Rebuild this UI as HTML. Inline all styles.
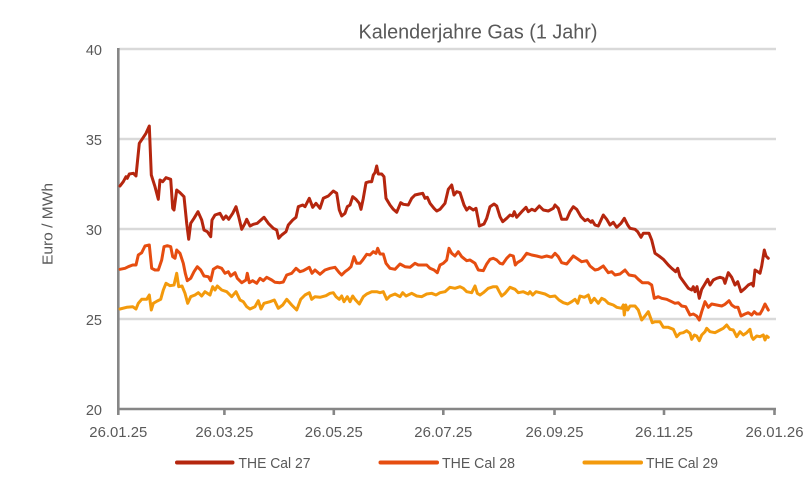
<!DOCTYPE html>
<html>
<head>
<meta charset="utf-8">
<style>
html,body{margin:0;padding:0;background:#fff;}
svg{display:block;}
text{font-family:"Liberation Sans",sans-serif;fill:#595959;}
</style>
</head>
<body>
<svg width="811" height="490" viewBox="0 0 811 490" xmlns="http://www.w3.org/2000/svg">
<rect width="811" height="490" fill="#fff"/>
<text x="478" y="38.5" font-size="20" text-anchor="middle" textLength="239" lengthAdjust="spacingAndGlyphs">Kalenderjahre Gas (1 Jahr)</text>
<!-- gridlines -->
<g stroke="#d9d9d9" stroke-width="2.6">
<line x1="119" y1="49" x2="776" y2="49"/>
<line x1="119" y1="139" x2="776" y2="139"/>
<line x1="119" y1="229" x2="776" y2="229"/>
<line x1="119" y1="319" x2="776" y2="319"/>
</g>
<!-- axes -->
<g stroke="#868686" stroke-width="2.6" fill="none">
<line x1="118.3" y1="48" x2="118.3" y2="410"/>
<line x1="117" y1="409" x2="776" y2="409"/>
<line x1="118.3" y1="409" x2="118.3" y2="415"/>
<line x1="224.4" y1="409" x2="224.4" y2="415"/>
<line x1="333.8" y1="409" x2="333.8" y2="415"/>
<line x1="443.3" y1="409" x2="443.3" y2="415"/>
<line x1="554.5" y1="409" x2="554.5" y2="415"/>
<line x1="664" y1="409" x2="664" y2="415"/>
<line x1="774.5" y1="409" x2="774.5" y2="415"/>
</g>
<!-- y labels -->
<g font-size="14.5" text-anchor="end">
<text x="102" y="55">40</text>
<text x="102" y="145">35</text>
<text x="102" y="235">30</text>
<text x="102" y="325">25</text>
<text x="102" y="415">20</text>
</g>
<text transform="translate(52.5,224) rotate(-90)" font-size="14.5" text-anchor="middle" textLength="82" lengthAdjust="spacingAndGlyphs">Euro / MWh</text>
<!-- x labels -->
<g font-size="14.5" text-anchor="middle">
<text x="118.3" y="437" textLength="58" lengthAdjust="spacingAndGlyphs">26.01.25</text>
<text x="224.4" y="437" textLength="58" lengthAdjust="spacingAndGlyphs">26.03.25</text>
<text x="333.8" y="437" textLength="58" lengthAdjust="spacingAndGlyphs">26.05.25</text>
<text x="443.3" y="437" textLength="58" lengthAdjust="spacingAndGlyphs">26.07.25</text>
<text x="554.5" y="437" textLength="58" lengthAdjust="spacingAndGlyphs">26.09.25</text>
<text x="664" y="437" textLength="58" lengthAdjust="spacingAndGlyphs">26.11.25</text>
<text x="774.5" y="437" textLength="58" lengthAdjust="spacingAndGlyphs">26.01.26</text>
</g>
<!-- series -->
<g fill="none" stroke-width="3" stroke-linejoin="round" stroke-linecap="round">
<polyline stroke="#f39a0c" points="120,309 126.7,307.3 132.7,306.7 136,309 138.3,303.3 141.7,299.3 146.7,299.3 149.3,295 151.3,310 153.3,303.3 157.3,301 160.7,299.3 163.3,290 166,283.3 170,285.7 174,285 176.7,273.3 178.7,286.7 182,286 185,293.3 187.7,303.3 190.7,296.7 195,295 198.3,292.7 201.7,296 205,291.7 210,295 212.7,286.7 215,290 217.3,286 221.7,290 226.7,291.7 231.7,296.7 236,291.7 240,300 243.3,301.7 246.7,306.7 250,309 255,306.7 258.3,300.7 261,309 264,303.3 270,301.7 274.3,300 278.3,308.3 282.7,305 286.7,299.3 291.7,305 296.7,310 300.7,299.3 305,295 309.3,292.7 311.7,299.3 315,296.7 320,297.3 326,295.7 330,293.3 333.3,292.7 336,296.7 339.3,299.3 341.7,296 344,301.7 347.3,296.7 350,301.7 352.7,296 355,299.3 359.3,304 363.3,296.7 366.7,294 371.7,291.7 376.7,291.7 380,292.7 383.3,291.7 386.7,299.3 390,296 395,294 400,296.7 402.7,292.7 406,296 411.7,293.3 416.7,296 421.7,296.7 426.7,294 431.7,293.3 436,295 440,292.7 445,291.7 450,287.3 455,288.3 460,286.7 463.3,288.3 466.7,291.7 471.7,292.7 475,286 477.3,293.3 480,295 483.3,292.7 488.3,288.3 493.3,286.7 496.7,286.7 499.3,291.7 501.7,296 505,293.3 510,287.3 515,289.3 518.3,292.7 523.3,291.7 528.3,294 530,291.7 532.7,295 536,291.7 540,292.7 545,294 550,296.7 555,296 559,300 563.3,302.7 567.7,304 571.7,301.7 575,299.3 577.7,303.3 580,296 584.3,297.3 588.3,295 591,302.7 594.3,298.3 598.3,303.3 601.7,298.3 605,300 608.3,303.3 613.3,305 616.7,307.3 621.7,308.3 623.3,305 624.3,315 625.7,305 627.7,310 630,306 635,306 638.3,310 641.7,320 645,316 648.3,311.7 652.3,322.7 655,321.7 660,321.7 663.3,327.3 668.3,327.3 673.3,329.3 676.7,336.7 680,333.3 683.3,332.7 686.7,330.7 690,333.3 691.7,339.3 694.3,335 696.7,336 699.3,340.7 701.7,335 705,331.7 706.7,328.3 710,331.7 715,332.7 720,330 723.3,328.3 726.7,325 730,329.3 733.3,330 736.7,336.7 740,331.7 743.3,335 746.7,332.7 750,329.3 751.7,336.7 753.3,339.3 756.7,336 760,336.7 763.3,335 765,340 766.7,336 768.3,337.3"/>
<polyline stroke="#e64d10" points="120,269.3 125,268.3 128.3,266.7 132.7,265 136,265 138.3,255 141.7,252.7 145,246 149.3,245 151.7,268.3 155,270 158.3,270 161.7,260 164,246.7 167.3,245.7 170.7,246.7 172.7,256.7 175,258.3 176.7,250 180,253.3 183.3,263.3 185.3,273.3 187.3,280.7 190.7,278.3 194,271.7 197.3,266.7 200.7,270 204,276 208.3,276.7 210.7,280.7 213.3,269.3 217.3,266.7 221.7,268.3 225,273.3 228.3,271.7 230.7,276 235,272.7 237.3,278.3 241.7,282.7 246,280 247.3,273.3 249.3,282.7 252.7,280.7 256.7,283.3 260,278.3 263.3,280.7 266.7,277.3 271.7,280 275,282.3 280,282.7 283.3,282 286.7,275 291.7,273.3 296,268.3 300,271.7 303.3,270.7 309.3,267.3 312,273.3 315,270 320,274.3 325,270 330,268.3 335,267.3 339.3,272.7 341.7,275 345,271.7 348.3,269.3 351,266.7 354,256.7 356.7,263.3 360,263.3 362.7,260 366.7,254.3 370,255 373.3,251.7 376,253.3 377.7,248.3 380,254 383.3,254 386,263.3 390,268.3 395,269.3 400,264 405,266.7 410,267.3 415,263.3 418.3,265 422.7,265 426.7,265 430,268.3 434,270 437.3,272.7 440,265 443.3,263.3 446.7,260 449,248.3 451.7,253.3 455,256 458.3,251.7 461.7,256.7 466.7,260.7 470,260 475,263.3 478.3,270 483.3,270.7 486.7,264 490,259.3 493.3,258.3 496.7,260 500,263.3 502.7,264 506.7,258.3 510,255 513.3,256 515.3,265 517.3,262.7 521.7,260 526.7,253.3 531.7,255 536.7,256 541.7,257.3 546.7,256 551.7,257.3 555,253.3 558.3,256.7 561.7,262.7 566.7,264 573.3,256 576.7,258.3 581.7,261.7 586.7,260.7 590,266 595,270 598.3,269.3 603.3,266 608.3,272.7 611.7,271.7 615,275 620,274 625,270 629,275 635,276 638.3,279.3 642.3,282.7 648.3,282.7 651.7,285 654.3,298.3 658.3,296.7 661.7,298.3 666.7,299.3 671.7,301.7 675,303.3 678.3,302.7 681.7,306 685.7,306.7 690,315 693.3,314 696.7,316 699.3,320 701.7,311.7 705,301.7 708.3,307.3 711.7,304 716.7,305 721.7,306 725,304.3 729,300.7 731.7,305 735,307.3 738,307.3 741,316 745,314 748.3,312.7 751.7,315 754.3,311.7 756.7,314 760,314 762.3,310 765,304 768.3,310"/>
<polyline stroke="#b5260e" points="120,186 123.3,181.7 126,176.7 127.3,178.3 129.3,174 133.3,173.3 136,176 139.3,143.3 142.7,138.3 146,133.3 149.3,126 151.3,175 155,186.7 158.3,199.3 160,180 162.7,181.7 166,177.7 170.7,179.3 172.7,208.3 174,210 176.7,190 180,192.7 184,196.7 186.7,223.3 188.7,239.3 190.7,223.3 194,218.3 198,211.7 201.7,220 204,230 207.3,231.7 210.7,236.7 212,220 215,215 220,213.3 223.3,219.3 226,216 228.7,219.3 232.7,213.3 236,206.7 238.7,216.7 241.7,229.3 245,223.3 246.7,219.3 250,226 253.3,224.3 257.3,223.3 264,217.3 268.3,223.3 273.3,228.3 276.7,230 278.7,238.3 281.7,235 286,231.7 288.3,225 292.7,220 296,217.3 298.3,206.7 302.7,205 305,206.7 309.3,198.3 312.7,207.3 316,203.3 320,208.3 323.3,198.3 328.3,196 333.3,191 336.7,193.3 339.3,210 341.7,216 345,213.3 347.3,206.7 350,205 352.7,196.7 356,199.3 359.3,203.3 361,209.3 363.3,198.3 366,182.7 369.3,181.7 371.7,181.7 373.3,175 375,172.7 376.7,166 378.3,174 381.7,174 384,176.7 386,198.3 390,205 393.3,209.3 396.7,212.3 400.7,202.7 403.3,204.3 408.3,205 411.7,198.3 415,195 419.3,194 422.7,193.3 425,198.3 427.3,197.3 430,203.3 434,208.3 436.7,211 440,209.3 445,203.3 448.3,189.3 451.7,185 454,195 456.7,191.7 460,192.7 464,205 466.7,210 469.3,207.3 473.3,210 476,208.3 478.3,220 479.3,226 484,224 486.7,218.3 490,206.7 494,204 496.7,206 500,216.7 502.7,221.7 506.7,218.3 510,215 512.7,216 514.3,211.7 516.7,217.3 521.7,211.7 526,207.3 528.3,211.7 531.7,209.3 535,210.7 539.3,206 543.3,210 548.3,211 553.3,208.3 555,205 558.3,208.3 561.7,219.3 566.7,219.3 570,211.7 573.3,206.7 576.7,209.3 581,216.7 585,220.7 587.7,219.3 591,222.3 592.3,220.7 595,225 598.3,226 603.3,215 606.7,219.3 610,225 613.3,222.3 616.7,227.3 621,223.3 624.3,218.3 627.7,225 630,228.3 635,229.3 637.7,231.7 641,237.3 643.3,233.3 649,233.3 651.7,240 655,253.3 659,256 663.3,259.3 668.3,265 671.7,268.3 675.7,271.7 677.7,268.3 680,276.7 684.3,282.7 688.3,288.3 691.7,290 693.3,286.7 695,291.7 697,286.7 699.3,298.3 701.7,289.3 704.3,285 707.7,279.3 710,285 713.3,280 716.7,278.3 720,277.3 723.3,278.3 725,283.3 728.3,272.7 731.7,277.3 735,285 737.7,281.7 741,291.7 745,288.3 748.3,285 751.7,283.3 753.3,286 755,270 757.7,271.7 760,273.3 761.7,266 764.3,250 766,256 768.3,258.3"/>
</g>
<!-- legend -->
<g stroke-width="4" stroke-linecap="round">
<line x1="177" y1="462.5" x2="232.5" y2="462.5" stroke="#b5260e"/>
<line x1="380.5" y1="462.5" x2="437" y2="462.5" stroke="#e64d10"/>
<line x1="584.5" y1="462.5" x2="641" y2="462.5" stroke="#f39a0c"/>
</g>
<g font-size="15">
<text x="238.5" y="468" textLength="72" lengthAdjust="spacingAndGlyphs">THE Cal 27</text>
<text x="442" y="468" textLength="73" lengthAdjust="spacingAndGlyphs">THE Cal 28</text>
<text x="646" y="468" textLength="72" lengthAdjust="spacingAndGlyphs">THE Cal 29</text>
</g>
</svg>
</body>
</html>
